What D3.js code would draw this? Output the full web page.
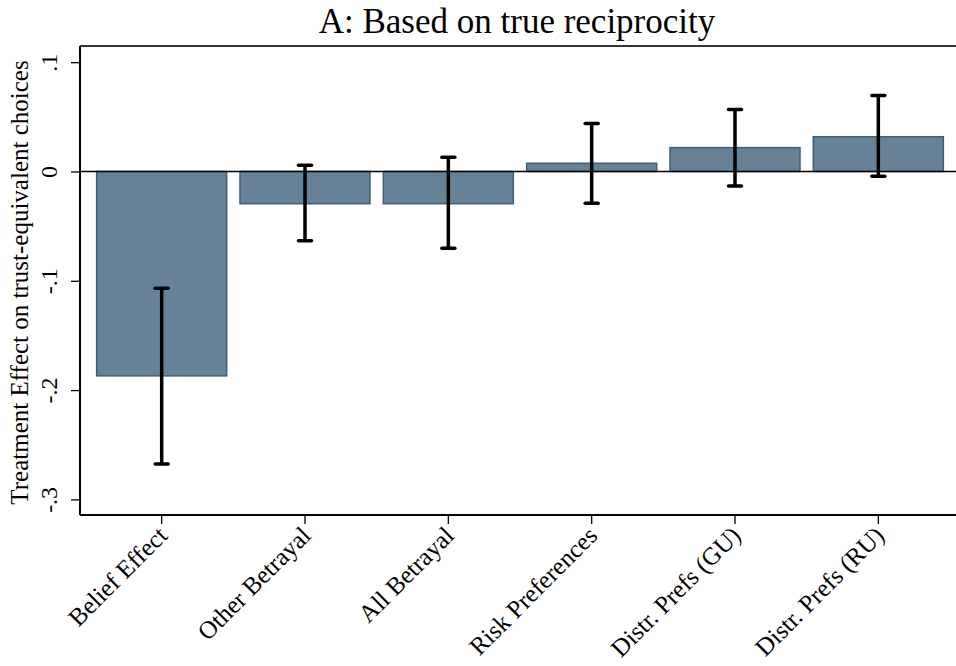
<!DOCTYPE html>
<html>
<head>
<meta charset="utf-8">
<script src="https://cdn.jsdelivr.net/npm/d3@7"></script>
<style>
  body { margin: 0; background: #fff; }
  text { font-family: "Liberation Serif", "Times New Roman", serif; fill: #000; }
</style>
</head>
<body>
<div id="chart"></div>
<script>
// chart data
var categories = ["Belief Effect", "Other Betrayal", "All Betrayal", "Risk Preferences", "Distr. Prefs (GU)", "Distr. Prefs (RU)"];
var effects = [-0.187, -0.0295, -0.0295, 0.0075, 0.0218, 0.0318];
var ciLow = [-0.2676, -0.0633, -0.0703, -0.029, -0.0133, -0.0044];
var ciHigh = [-0.1069, 0.0057, 0.013, 0.044, 0.0566, 0.0694];
var yTicks = [0.1, 0, -0.1, -0.2, -0.3];
var yTickLabels = [".1", "0", "-.1", "-.2", "-.3"];

var svgWidth = 956;
var svgHeight = 666;

var margin = { top: 46, right: 0, bottom: 151, left: 80 };
var width = svgWidth - margin.left - margin.right;
var height = svgHeight - margin.top - margin.bottom;

var svg = d3.select("#chart")
  .append("svg")
  .attr("width", svgWidth)
  .attr("height", svgHeight);

var chartGroup = svg.append("g")
  .attr("transform", `translate(${margin.left}, ${margin.top})`);

// scales
var xBandScale = d3.scaleBand()
  .domain(categories)
  .range([10, 870])
  .paddingInner(0.093)
  .paddingOuter(0.0465);

var yLinearScale = d3.scaleLinear()
  .domain([-0.3143, 0.1148])
  .range([height, 0]);

var data = categories.map(function(c, i) {
  return { name: c, value: effects[i], lo: ciLow[i], hi: ciHigh[i] };
});

// bars
chartGroup.selectAll(".bar")
  .data(data)
  .enter()
  .append("rect")
  .attr("class", "bar")
  .attr("x", d => xBandScale(d.name))
  .attr("width", xBandScale.bandwidth())
  .attr("y", d => yLinearScale(Math.max(0, d.value)))
  .attr("height", d => Math.abs(yLinearScale(d.value) - yLinearScale(0)))
  .attr("fill", "#658296")
  .attr("stroke", "#3f5f78")
  .attr("stroke-width", 1.5);

// zero line
chartGroup.append("line")
  .attr("x1", 0)
  .attr("x2", width)
  .attr("y1", yLinearScale(0))
  .attr("y2", yLinearScale(0))
  .attr("stroke", "#000")
  .attr("stroke-width", 1.5);

// error bars
var errGroup = chartGroup.selectAll(".err")
  .data(data)
  .enter()
  .append("g")
  .attr("class", "err")
  .attr("transform", d => `translate(${xBandScale(d.name) + xBandScale.bandwidth() / 2}, 0)`);

errGroup.append("line")
  .attr("y1", d => yLinearScale(d.hi))
  .attr("y2", d => yLinearScale(d.lo))
  .attr("stroke", "#000")
  .attr("stroke-width", 3.5);

errGroup.selectAll(".cap")
  .data(d => [d.hi, d.lo])
  .enter()
  .append("line")
  .attr("x1", -6.5)
  .attr("x2", 6.5)
  .attr("y1", v => yLinearScale(v))
  .attr("y2", v => yLinearScale(v))
  .attr("stroke", "#000")
  .attr("stroke-width", 3.5)
  .attr("stroke-linecap", "round");

// top border
chartGroup.append("line")
  .attr("x1", 0)
  .attr("x2", width)
  .attr("y1", 0)
  .attr("y2", 0)
  .attr("stroke", "#333")
  .attr("stroke-width", 2);

// y axis
var leftAxis = d3.axisLeft(yLinearScale)
  .tickValues(yTicks)
  .tickSize(9)
  .tickPadding(6)
  .tickFormat((d, i) => yTickLabels[i]);

var yAxis = chartGroup.append("g").call(leftAxis);
yAxis.select(".domain").attr("stroke-width", 2).attr("d", `M0,0V${height}`);
yAxis.selectAll(".tick line").attr("stroke-width", 1.3);
yAxis.selectAll(".tick text")
  .attr("font-size", 24)
  .attr("text-anchor", "middle")
  .attr("x", 0)
  .attr("dy", 0)
  .attr("transform", "translate(-23,0) rotate(-90)");

// x axis
var bottomAxis = d3.axisBottom(xBandScale)
  .tickSize(9)
  .tickPadding(4);

var xAxis = chartGroup.append("g")
  .attr("transform", `translate(0, ${height})`)
  .call(bottomAxis);
xAxis.select(".domain").attr("stroke-width", 2).attr("d", `M0,0H${width}`);
xAxis.selectAll(".tick line").attr("stroke-width", 1.3);
xAxis.selectAll(".tick text")
  .attr("font-size", 25)
  .attr("text-anchor", "end")
  .attr("x", 0)
  .attr("y", 0)
  .attr("dy", "0.35em")
  .attr("transform", "translate(1,16) rotate(-45)");

// y title
svg.append("text")
  .attr("transform", `translate(28, ${margin.top + height / 2 + 2}) rotate(-90)`)
  .attr("text-anchor", "middle")
  .attr("font-size", 25)
  .text("Treatment Effect on trust-equivalent choices");

// chart title
svg.append("text")
  .attr("x", 517)
  .attr("y", 33)
  .attr("text-anchor", "middle")
  .attr("font-size", 35)
  .text("A: Based on true reciprocity");
</script>
</body>
</html>
